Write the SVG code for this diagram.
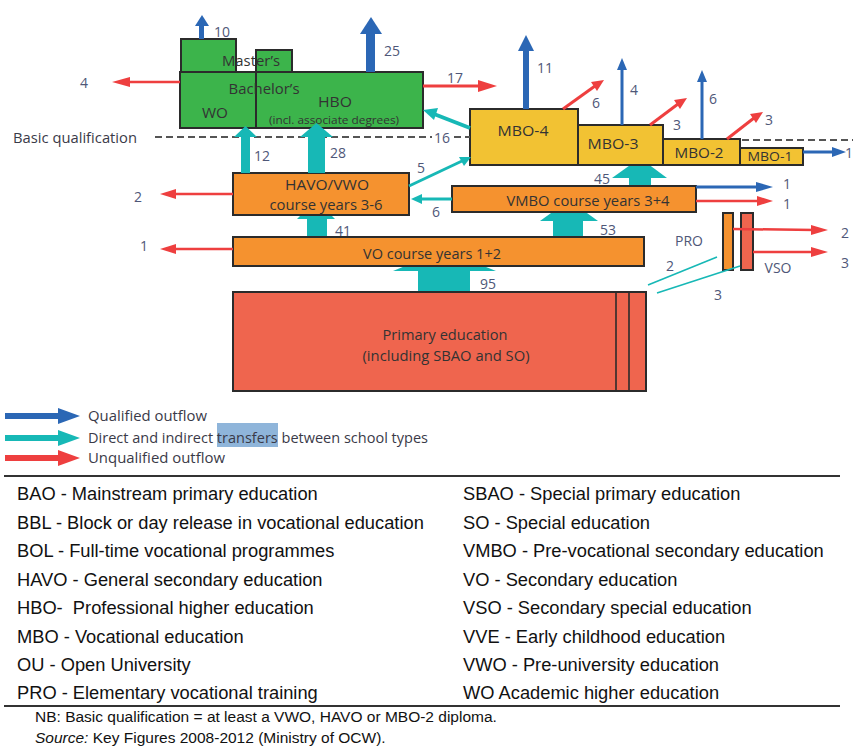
<svg xmlns="http://www.w3.org/2000/svg" width="853" height="749" viewBox="0 0 853 749">
<style>
.box{stroke:#2b2b2b;stroke-width:2}
.green{fill:#3cb44b}
.orange{fill:#f5922f}
.yellow{fill:#f2c233}
.prim{fill:#ef654e}
.teal{fill:#17b8b6}
.tealL{stroke:#17b8b6;fill:none}
.blue{fill:#2b67b5}
.blueL{stroke:#2b67b5;fill:none}
.red{fill:#ee3f3f}
.redL{stroke:#ee3f3f;fill:none}
.t{font-family:"Open Sans","Noto Sans",sans-serif;fill:#333;text-anchor:middle;dominant-baseline:central}
.n{font-family:"Open Sans","Noto Sans",sans-serif;fill:#4f5778;font-size:14px;text-anchor:middle;dominant-baseline:central}
.leg{font-family:"Open Sans","Noto Sans",sans-serif;fill:#3a3a48;font-size:14px;dominant-baseline:central}
.g{font-family:"Liberation Sans",Arial,sans-serif;fill:#111;font-size:18.3px;white-space:pre}
.nb{font-family:"Liberation Sans",Arial,sans-serif;fill:#111;font-size:15.5px}
</style>

<!-- teal connectors behind boxes -->
<g id="connectors-back">
  <rect class="teal" x="307" y="214" width="20" height="24"/>
  <polygon class="teal" points="297,219 335,219 316,200"/>
  <rect class="teal" x="553" y="216" width="30" height="22"/>
  <polygon class="teal" points="540,221 598,221 569,200"/>
  <rect class="teal" x="629" y="174" width="22" height="12"/>
  <polygon class="teal" points="612,178 667,178 640,158"/>
  <rect class="teal" x="418" y="265" width="52" height="28"/>
  <polygon class="teal" points="393,271 496,271 444,250"/>
</g>

<g id="node-wo">
  <rect class="box green" x="181" y="39" width="55" height="34"/>
</g>
<g id="node-hbo-master">
  <rect class="box green" x="256" y="50" width="36" height="23"/>
</g>
<g id="node-higher">
  <rect class="box green" x="180" y="72" width="243" height="56"/>
  <line x1="256" y1="72" x2="256" y2="128" stroke="#2b2b2b" stroke-width="2"/>
  <text class="t" x="251" y="60" font-size="14" textLength="58" lengthAdjust="spacingAndGlyphs">Master’s</text>
  <text class="t" x="264" y="88" font-size="14" textLength="71" lengthAdjust="spacingAndGlyphs">Bachelor’s</text>
  <text class="t" x="215" y="112" font-size="14" textLength="26" lengthAdjust="spacingAndGlyphs">WO</text>
  <text class="t" x="335" y="101" font-size="14" textLength="34" lengthAdjust="spacingAndGlyphs">HBO</text>
  <text class="t" x="334" y="119" font-size="11" textLength="130" lengthAdjust="spacingAndGlyphs">(incl. associate degrees)</text>
</g>

<g id="node-mbo4">
  <rect class="box yellow" x="470" y="109" width="108" height="56"/>
  <text class="t" x="523" y="130" font-size="14" textLength="51" lengthAdjust="spacingAndGlyphs">MBO-4</text>
</g>
<g id="node-mbo3">
  <rect class="box yellow" x="578" y="125" width="85" height="40"/>
  <text class="t" x="613" y="143" font-size="14" textLength="51" lengthAdjust="spacingAndGlyphs">MBO-3</text>
</g>
<g id="node-mbo2">
  <rect class="box yellow" x="663" y="139" width="77" height="26"/>
  <text class="t" x="699" y="152" font-size="14" textLength="49" lengthAdjust="spacingAndGlyphs">MBO-2</text>
</g>
<g id="node-mbo1">
  <rect class="box yellow" x="740" y="148" width="63" height="17"/>
  <text class="t" x="770" y="156" font-size="13" textLength="45" lengthAdjust="spacingAndGlyphs">MBO-1</text>
</g>

<g id="node-havo">
  <rect class="box orange" x="233" y="173" width="176" height="42"/>
  <text class="t" x="327" y="184" font-size="14" textLength="84" lengthAdjust="spacingAndGlyphs">HAVO/VWO</text>
  <text class="t" x="326" y="204" font-size="14" textLength="113" lengthAdjust="spacingAndGlyphs">course years 3-6</text>
</g>
<g id="node-vmbo">
  <rect class="box orange" x="452" y="186" width="244" height="26"/>
  <text class="t" x="588" y="200" font-size="14" textLength="163" lengthAdjust="spacingAndGlyphs">VMBO course years 3+4</text>
</g>
<g id="node-vo">
  <rect class="box orange" x="233" y="237" width="411" height="29"/>
  <text class="t" x="432" y="253" font-size="14" textLength="138" lengthAdjust="spacingAndGlyphs">VO course years 1+2</text>
</g>
<g id="node-primary">
  <rect class="box prim" x="233" y="292" width="413" height="99"/>
  <line x1="616" y1="292" x2="616" y2="391" stroke="#2b2b2b" stroke-width="1.6"/>
  <line x1="629" y1="292" x2="629" y2="391" stroke="#2b2b2b" stroke-width="1.6"/>
  <text class="t" x="445" y="334" font-size="14" textLength="125" lengthAdjust="spacingAndGlyphs">Primary education</text>
  <text class="t" x="446" y="355" font-size="14" textLength="167" lengthAdjust="spacingAndGlyphs">(including SBAO and SO)</text>
</g>
<g id="node-pro">
  <rect class="box orange" x="723" y="213" width="10" height="57" stroke-width="1.6"/>
  <text class="n" x="689" y="240" font-size="14">PRO</text>
</g>
<g id="node-vso">
  <rect class="box prim" x="741" y="213" width="12" height="57" stroke-width="1.6"/>
  <text class="n" x="778" y="267" font-size="14">VSO</text>
</g>

<g id="basic-qualification">
  <text class="leg" x="13" y="137" textLength="124" lengthAdjust="spacingAndGlyphs" fill="#4a5878">Basic qualification</text>
  <line x1="155" y1="137" x2="432" y2="137" stroke="#555" stroke-width="1.8" stroke-dasharray="7,4"/>
  <line x1="454" y1="137" x2="470" y2="137" stroke="#555" stroke-width="1.8" stroke-dasharray="7,4"/>
  <line x1="742" y1="140" x2="853" y2="140" stroke="#555" stroke-width="1.8" stroke-dasharray="7,4"/>
</g>

<g id="connectors">
  <rect class="teal" x="241" y="135" width="9" height="38"/>
  <polygon class="teal" points="234,137 257,137 245.5,126"/>
  <rect class="teal" x="308" y="135" width="17" height="38"/>
  <polygon class="teal" points="300,137 333,137 316.5,123"/>
  <line class="tealL" x1="470" y1="128" x2="434" y2="114" stroke-width="4"/>
  <polygon class="teal" points="423,110 438,108 434,120"/>
  <line class="tealL" x1="409" y1="186" x2="462" y2="161" stroke-width="3"/>
  <polygon class="teal" points="471,157 459,157 464,166"/>
  <line class="tealL" x1="452" y1="199" x2="420" y2="199" stroke-width="3"/>
  <polygon class="teal" points="411,199 422,194 422,204"/>
  <line class="tealL" x1="648" y1="285" x2="717" y2="257" stroke-width="1.6"/>
  <line class="tealL" x1="657" y1="293" x2="740" y2="266" stroke-width="1.6"/>

  <rect class="blue" x="199" y="24" width="5" height="15"/>
  <polygon class="blue" points="195,26 209,26 202,15"/>
  <rect class="blue" x="366" y="31" width="9" height="41"/>
  <polygon class="blue" points="360,34 382,34 371,17"/>
  <rect class="blue" x="523" y="48" width="6" height="61"/>
  <polygon class="blue" points="518,51 534,51 526,35"/>
  <line class="blueL" x1="622" y1="125" x2="622" y2="66" stroke-width="3"/>
  <polygon class="blue" points="617,70 627,70 622,58"/>
  <line class="blueL" x1="702" y1="139" x2="702" y2="78" stroke-width="3"/>
  <polygon class="blue" points="697,82 707,82 702,70"/>
  <line class="blueL" x1="803" y1="152" x2="836" y2="152" stroke-width="3"/>
  <polygon class="blue" points="832,147 846,152 832,157"/>
  <line class="blueL" x1="696" y1="187" x2="760" y2="187" stroke-width="3"/>
  <polygon class="blue" points="756,182 773,187 756,192"/>

  <line class="redL" x1="180" y1="82" x2="122" y2="82" stroke-width="2.5"/>
  <polygon class="red" points="112,82 130,77 130,87"/>
  <line class="redL" x1="423" y1="86" x2="485" y2="86" stroke-width="3"/>
  <polygon class="red" points="497,86 478,80 478,92"/>
  <line class="redL" x1="233" y1="194" x2="170" y2="194" stroke-width="2.5"/>
  <polygon class="red" points="160,194 176,189 176,199"/>
  <line class="redL" x1="233" y1="249" x2="170" y2="249" stroke-width="2.5"/>
  <polygon class="red" points="160,249 176,244 176,254"/>
  <line class="redL" x1="563" y1="109" x2="595" y2="86" stroke-width="3"/>
  <polygon class="red" points="604,80 591,82 597,91"/>
  <line class="redL" x1="650" y1="125" x2="678" y2="104" stroke-width="3"/>
  <polygon class="red" points="687,98 674,100 680,109"/>
  <line class="redL" x1="727" y1="139" x2="754" y2="118" stroke-width="3"/>
  <polygon class="red" points="763,112 750,114 756,123"/>
  <line class="redL" x1="696" y1="201" x2="762" y2="201" stroke-width="2.5"/>
  <polygon class="red" points="773,201 757,196 757,206"/>
  <line class="redL" x1="733" y1="229" x2="815" y2="230" stroke-width="2.5"/>
  <polygon class="red" points="828,230 811,225 811,235"/>
  <line class="redL" x1="753" y1="252" x2="815" y2="252" stroke-width="2.5"/>
  <polygon class="red" points="828,252 811,247 811,257"/>
</g>

<g id="flow-labels">
  <text class="n" x="222" y="31">10</text>
  <text class="n" x="392" y="50">25</text>
  <text class="n" x="84" y="82" font-size="15">4</text>
  <text class="n" x="455" y="77">17</text>
  <text class="n" x="545" y="67">11</text>
  <text class="n" x="596" y="102">6</text>
  <text class="n" x="634" y="89">4</text>
  <text class="n" x="677" y="124">3</text>
  <text class="n" x="713" y="98">6</text>
  <text class="n" x="769" y="119">3</text>
  <text class="n" x="849" y="152">1</text>
  <rect x="433" y="129" width="20" height="16" fill="#fff"/>
  <text class="n" x="442" y="137">16</text>
  <text class="n" x="262" y="155">12</text>
  <text class="n" x="338" y="152">28</text>
  <text class="n" x="421" y="167">5</text>
  <text class="n" x="436" y="211">6</text>
  <text class="n" x="138" y="196">2</text>
  <text class="n" x="144" y="245">1</text>
  <text class="n" x="343" y="230">41</text>
  <text class="n" x="602" y="178">45</text>
  <text class="n" x="608" y="229">53</text>
  <text class="n" x="488" y="283">95</text>
  <text class="n" x="787" y="183">1</text>
  <text class="n" x="787" y="203">1</text>
  <text class="n" x="845" y="232">2</text>
  <text class="n" x="845" y="262">3</text>
  <text class="n" x="670" y="265">2</text>
  <text class="n" x="718" y="294">3</text>
</g>

<g id="legend">
  <rect x="5" y="413" width="58" height="6" class="blue"/>
  <polygon class="blue" points="58,408 80,416 58,424"/>
  <rect x="5" y="435" width="58" height="6" class="teal"/>
  <polygon class="teal" points="58,430 80,438 58,446"/>
  <rect x="5" y="455" width="58" height="6" class="red"/>
  <polygon class="red" points="58,450 80,458 58,466"/>
  <rect x="217" y="423" width="61" height="24" fill="#8fb5da"/>
  <text class="leg" x="88" y="415" textLength="119" lengthAdjust="spacingAndGlyphs">Qualified outflow</text>
  <text class="leg" x="88" y="437" textLength="340" lengthAdjust="spacingAndGlyphs">Direct and indirect transfers between school types</text>
  <text class="leg" x="88" y="457" textLength="137" lengthAdjust="spacingAndGlyphs">Unqualified outflow</text>
</g>

<g id="glossary">
  <line x1="4" y1="476" x2="840" y2="476" stroke="#333" stroke-width="2"/>
  <text class="g" x="17" y="500">BAO - Mainstream primary education</text>
  <text class="g" x="17" y="529">BBL - Block or day release in vocational education</text>
  <text class="g" x="17" y="557">BOL - Full-time vocational programmes</text>
  <text class="g" x="17" y="586">HAVO - General secondary education</text>
  <text class="g" x="17" y="614" xml:space="preserve">HBO-  Professional higher education</text>
  <text class="g" x="17" y="643">MBO - Vocational education</text>
  <text class="g" x="17" y="671">OU - Open University</text>
  <text class="g" x="17" y="699">PRO - Elementary vocational training</text>
  <text class="g" x="463" y="500">SBAO - Special primary education</text>
  <text class="g" x="463" y="529">SO - Special education</text>
  <text class="g" x="463" y="557">VMBO - Pre-vocational secondary education</text>
  <text class="g" x="463" y="586">VO - Secondary education</text>
  <text class="g" x="463" y="614">VSO - Secondary special education</text>
  <text class="g" x="463" y="643">VVE - Early childhood education</text>
  <text class="g" x="463" y="671">VWO - Pre-university education</text>
  <text class="g" x="463" y="699">WO Academic higher education</text>
  <line x1="4" y1="706" x2="840" y2="706" stroke="#333" stroke-width="2"/>
  <text class="nb" x="35" y="722">NB: Basic qualification = at least a VWO, HAVO or MBO-2 diploma.</text>
  <text class="nb" x="35" y="743"><tspan font-style="italic">Source:</tspan> Key Figures 2008-2012 (Ministry of OCW).</text>
</g>
</svg>
